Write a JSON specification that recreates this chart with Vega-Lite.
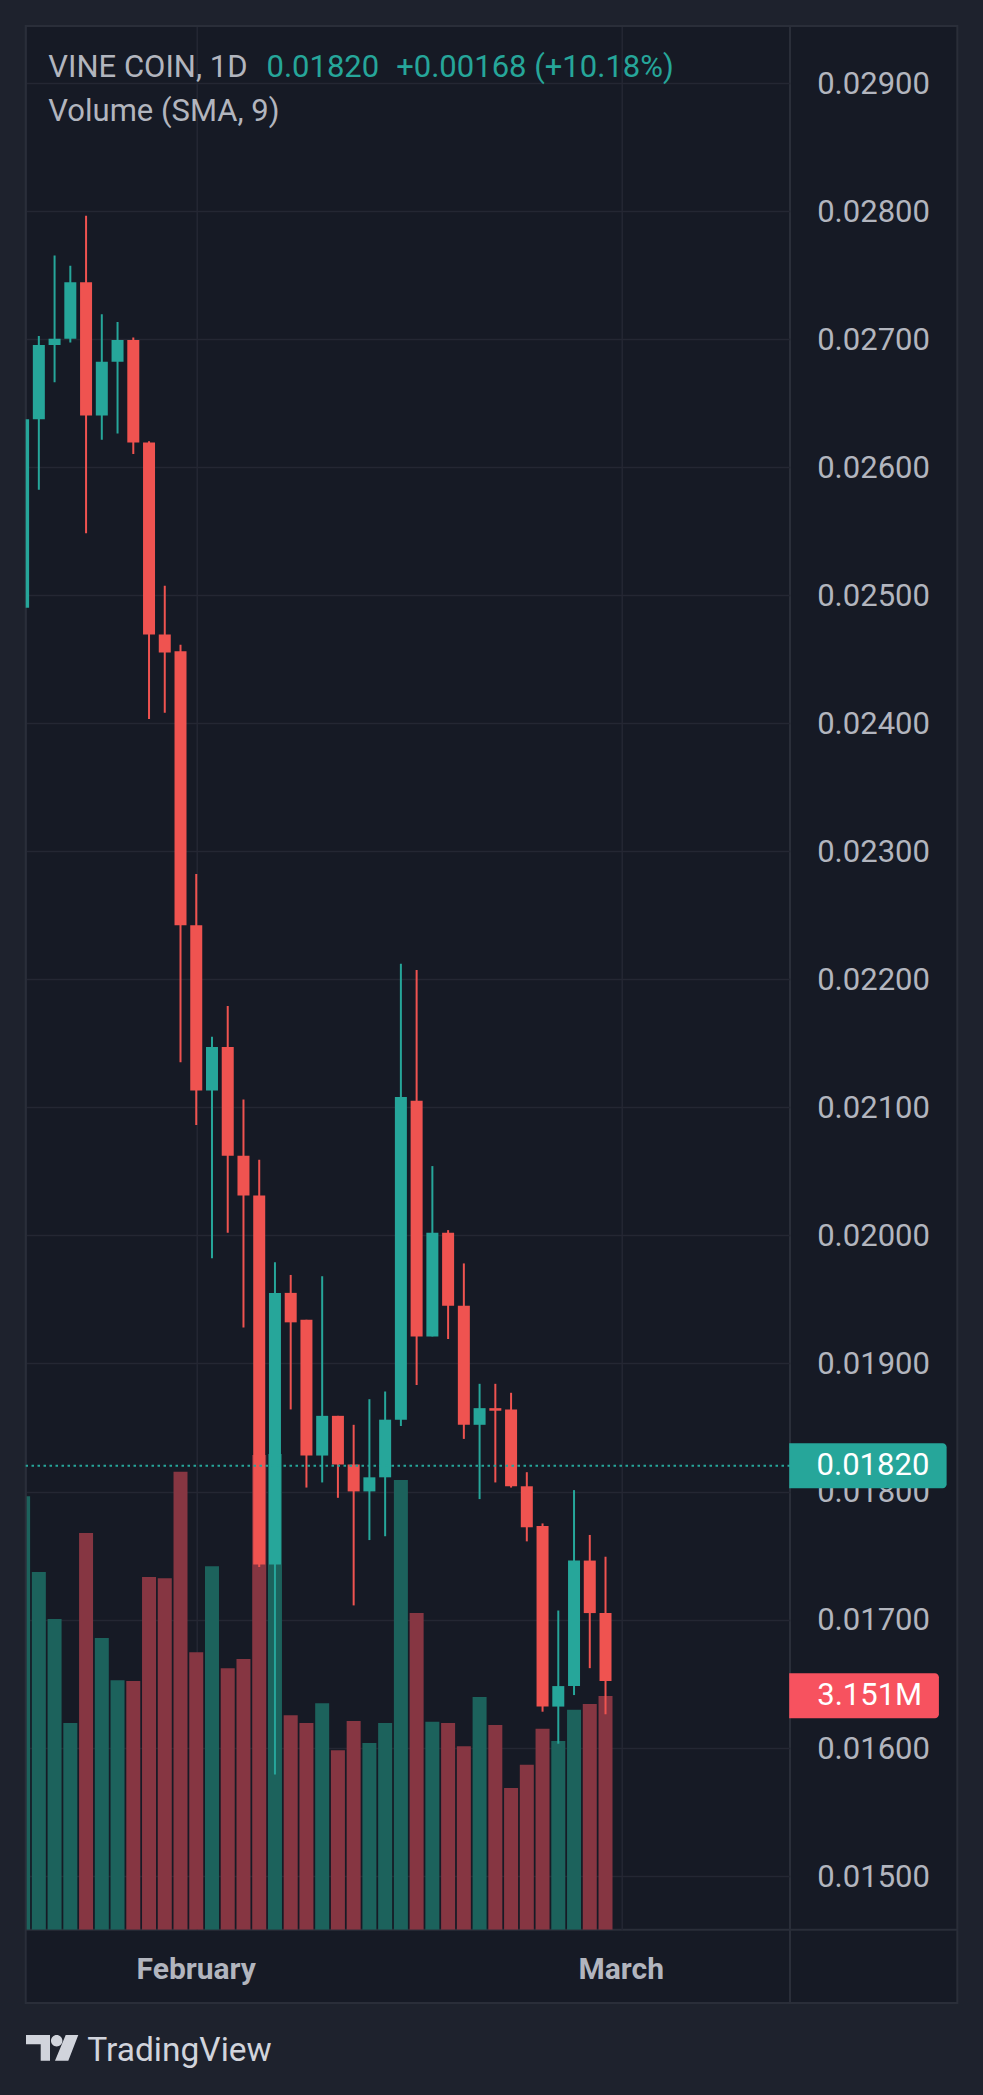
{
  "$schema": "https://vega.github.io/schema/vega-lite/v6.json",
  "width": 764.3,
  "height": 1903.8,
  "autosize": {"type": "none"},
  "padding": {"left": 25.7, "top": 25.9, "right": 193, "bottom": 165.3},
  "background": "#161a25",
  "config": {
    "view": {"stroke": "#2a2e39", "strokeWidth": 2, "fill": "#161a25"},
    "font": "Roboto",
    "scale": {"continuousPadding": 0},
    "axis": {"labelFont": "Roboto", "titleFont": "Roboto", "gridColor": "#242733", "gridWidth": 1.5, "domain": false, "ticks": false, "tickSize": 0, "title": null}
  },
  "datasets": {
    "candles": [
      {"day": 0, "open": 0.02490, "high": 0.02640, "low": 0.02485, "close": 0.02637, "volume": 5.845},
      {"day": 1, "open": 0.02637, "high": 0.02702, "low": 0.02582, "close": 0.02695, "volume": 4.823},
      {"day": 2, "open": 0.02695, "high": 0.02765, "low": 0.02666, "close": 0.02700, "volume": 4.190},
      {"day": 3, "open": 0.02700, "high": 0.02757, "low": 0.02697, "close": 0.02744, "volume": 2.786},
      {"day": 4, "open": 0.02744, "high": 0.02796, "low": 0.02548, "close": 0.02640, "volume": 5.349},
      {"day": 5, "open": 0.02640, "high": 0.02719, "low": 0.02621, "close": 0.02682, "volume": 3.933},
      {"day": 6, "open": 0.02682, "high": 0.02713, "low": 0.02626, "close": 0.02699, "volume": 3.365},
      {"day": 7, "open": 0.02699, "high": 0.02701, "low": 0.02610, "close": 0.02619, "volume": 3.353},
      {"day": 8, "open": 0.02619, "high": 0.02620, "low": 0.02403, "close": 0.02469, "volume": 4.757},
      {"day": 9, "open": 0.02469, "high": 0.02507, "low": 0.02408, "close": 0.02455, "volume": 4.740},
      {"day": 10, "open": 0.02456, "high": 0.02461, "low": 0.02135, "close": 0.02242, "volume": 6.174},
      {"day": 11, "open": 0.02242, "high": 0.02282, "low": 0.02086, "close": 0.02113, "volume": 3.742},
      {"day": 12, "open": 0.02113, "high": 0.02155, "low": 0.01982, "close": 0.02147, "volume": 4.901},
      {"day": 13, "open": 0.02147, "high": 0.02179, "low": 0.02002, "close": 0.02062, "volume": 3.526},
      {"day": 14, "open": 0.02062, "high": 0.02106, "low": 0.01928, "close": 0.02031, "volume": 3.651},
      {"day": 15, "open": 0.02031, "high": 0.02059, "low": 0.01741, "close": 0.01743, "volume": 6.401},
      {"day": 16, "open": 0.01743, "high": 0.01979, "low": 0.01579, "close": 0.01955, "volume": 6.414},
      {"day": 17, "open": 0.01955, "high": 0.01969, "low": 0.01864, "close": 0.01932, "volume": 2.892},
      {"day": 18, "open": 0.01934, "high": 0.01934, "low": 0.01803, "close": 0.01828, "volume": 2.786},
      {"day": 19, "open": 0.01828, "high": 0.01968, "low": 0.01807, "close": 0.01859, "volume": 3.054},
      {"day": 20, "open": 0.01859, "high": 0.01859, "low": 0.01795, "close": 0.01821, "volume": 2.420},
      {"day": 21, "open": 0.01821, "high": 0.01852, "low": 0.01711, "close": 0.01800, "volume": 2.815},
      {"day": 22, "open": 0.01800, "high": 0.01872, "low": 0.01762, "close": 0.01811, "volume": 2.516},
      {"day": 23, "open": 0.01811, "high": 0.01878, "low": 0.01765, "close": 0.01856, "volume": 2.786},
      {"day": 24, "open": 0.01856, "high": 0.02212, "low": 0.01851, "close": 0.02108, "volume": 6.064},
      {"day": 25, "open": 0.02105, "high": 0.02207, "low": 0.01883, "close": 0.01921, "volume": 4.270},
      {"day": 26, "open": 0.01921, "high": 0.02054, "low": 0.01921, "close": 0.02002, "volume": 2.803},
      {"day": 27, "open": 0.02002, "high": 0.02004, "low": 0.01919, "close": 0.01945, "volume": 2.786},
      {"day": 28, "open": 0.01945, "high": 0.01978, "low": 0.01841, "close": 0.01852, "volume": 2.474},
      {"day": 29, "open": 0.01852, "high": 0.01884, "low": 0.01794, "close": 0.01865, "volume": 3.138},
      {"day": 30, "open": 0.01865, "high": 0.01884, "low": 0.01807, "close": 0.01863, "volume": 2.761},
      {"day": 31, "open": 0.01864, "high": 0.01877, "low": 0.01803, "close": 0.01804, "volume": 1.912},
      {"day": 32, "open": 0.01804, "high": 0.01815, "low": 0.01761, "close": 0.01772, "volume": 2.224},
      {"day": 33, "open": 0.01773, "high": 0.01775, "low": 0.01628, "close": 0.01632, "volume": 2.708},
      {"day": 34, "open": 0.01632, "high": 0.01707, "low": 0.01603, "close": 0.01648, "volume": 2.546},
      {"day": 35, "open": 0.01648, "high": 0.01801, "low": 0.01641, "close": 0.01746, "volume": 2.965},
      {"day": 36, "open": 0.01746, "high": 0.01766, "low": 0.01662, "close": 0.01705, "volume": 3.042},
      {"day": 37, "open": 0.01705, "high": 0.01749, "low": 0.01626, "close": 0.01652, "volume": 3.151}
    ],
    "last": [{"price": 0.0182, "label": "0.01820"}],
    "lastVolume": [{"volume": 3.151, "label": "3.151M"}],
    "months": [{"day": 11, "month": "February"}, {"day": 38, "month": "March"}]
  },
  "layer": [
    {
      "layer": [
        {
          "data": {"name": "candles"},
          "mark": {"type": "bar", "width": 14, "clip": true},
          "encoding": {
            "x": {
              "field": "day", "type": "quantitative",
              "scale": {"domain": [0.165, 48.72], "nice": false, "zero": false, "padding": 0},
              "axis": {"values": [11, 38], "labels": false, "grid": true, "orient": "bottom"}
            },
            "y": {"field": "volume", "type": "quantitative", "scale": {"domain": [0, 25.67], "nice": false, "padding": 0}, "axis": null},
            "color": {"condition": {"test": "datum.close >= datum.open", "value": "#1c625c"}, "value": "#863642"}
          }
        },
        {
          "data": {"name": "lastVolume"},
          "mark": {"type": "rect", "color": "#f7525f", "cornerRadiusTopRight": 4, "cornerRadiusBottomRight": 4},
          "encoding": {
            "x": {"datum": 48.67, "type": "quantitative"},
            "x2": {"datum": 58.18},
            "y": {"datum": 3.457, "type": "quantitative", "axis": null},
            "y2": {"datum": 2.851}
          }
        },
        {
          "data": {"name": "lastVolume"},
          "mark": {"type": "text", "align": "left", "baseline": "middle", "color": "#ffffff", "fontSize": 31, "font": "Roboto"},
          "encoding": {
            "x": {"datum": 50.45, "type": "quantitative"},
            "y": {"field": "volume", "type": "quantitative", "axis": null},
            "text": {"field": "label"}
          }
        }
      ]
    },
    {
      "layer": [
        {
          "data": {"name": "candles"},
          "mark": {"type": "rule", "strokeWidth": 2, "clip": true},
          "encoding": {
            "x": {
              "field": "day", "type": "quantitative",
              "scale": {"domain": [0.165, 48.72], "nice": false, "zero": false, "padding": 0},
              "axis": {"values": [11, 38], "labels": false, "grid": true, "orient": "bottom"}
            },
            "y": {
              "field": "low", "type": "quantitative",
              "scale": {"domain": [0.014578, 0.029442], "nice": false, "zero": false, "padding": 0},
              "axis": {
                "orient": "right", "values": [0.015, 0.016, 0.017, 0.018, 0.019, 0.020, 0.021, 0.022, 0.023, 0.024, 0.025, 0.026, 0.027, 0.028, 0.029],
                "format": ".5f", "labelColor": "#b2b5be", "labelFontSize": 31, "labelFont": "Roboto", "labelPadding": 26.7, "labelAlign": "left", "labelBaseline": "middle",
                "grid": true, "labelOverlap": false, "labelOffset": 1.5
              }
            },
            "y2": {"field": "high"},
            "color": {"condition": {"test": "datum.close >= datum.open", "value": "#26a69a"}, "value": "#ef5350"}
          }
        },
        {
          "data": {"values": [{}]},
          "mark": {"type": "rect", "color": "#1e222d"},
          "encoding": {
            "x": {"datum": -5, "type": "quantitative"}, "x2": {"datum": 0.165},
            "y": {"datum": 0.0325, "type": "quantitative"}, "y2": {"datum": 0.0125}
          }
        },
        {
          "data": {"values": [{}]},
          "mark": {"type": "rect", "color": "#1e222d"},
          "encoding": {
            "x": {"datum": 59.35, "type": "quantitative"}, "x2": {"datum": 70},
            "y": {"datum": 0.0325, "type": "quantitative"}, "y2": {"datum": 0.0125}
          }
        },
        {
          "data": {"values": [{}]},
          "mark": {"type": "rect", "color": "#1e222d"},
          "encoding": {
            "x": {"datum": -5, "type": "quantitative"}, "x2": {"datum": 70},
            "y": {"datum": 0.0325, "type": "quantitative"}, "y2": {"datum": 0.029442}
          }
        },
        {
          "data": {"values": [{}]},
          "mark": {"type": "rect", "color": "#1e222d"},
          "encoding": {
            "x": {"datum": -5, "type": "quantitative"}, "x2": {"datum": 70},
            "y": {"datum": 0.014006, "type": "quantitative"}, "y2": {"datum": 0.0125}
          }
        },
        {
          "data": {"values": [{}]},
          "mark": {"type": "rect", "fillOpacity": 0, "stroke": "#2a2e39", "strokeWidth": 2},
          "encoding": {
            "x": {"datum": 0.165, "type": "quantitative"}, "x2": {"datum": 59.35},
            "y": {"datum": 0.029442, "type": "quantitative"}, "y2": {"datum": 0.014006}
          }
        },
        {
          "data": {"values": [{}]},
          "mark": {"type": "rule", "color": "#2a2e39", "strokeWidth": 2},
          "encoding": {
            "x": {"datum": 48.72, "type": "quantitative"},
            "y": {"datum": 0.014578, "type": "quantitative"}, "y2": {"datum": 0.014006}
          }
        },
        {
          "data": {"values": [{}]},
          "mark": {"type": "rule", "color": "#2a2e39", "strokeWidth": 2},
          "encoding": {
            "x": {"datum": 48.72, "type": "quantitative"}, "x2": {"datum": 59.35},
            "y": {"datum": 0.014578, "type": "quantitative"}
          }
        },
        {
          "data": {"name": "candles"},
          "mark": {"type": "bar", "width": 12, "clip": true},
          "encoding": {
            "x": {"field": "day", "type": "quantitative"},
            "y": {"field": "open", "type": "quantitative"},
            "y2": {"field": "close"},
            "color": {"condition": {"test": "datum.close >= datum.open", "value": "#26a69a"}, "value": "#ef5350"}
          }
        },
        {
          "data": {"name": "last"},
          "mark": {"type": "rule", "color": "#26a69a", "strokeWidth": 2, "strokeDash": [2.5, 3.5]},
          "encoding": {
            "y": {"field": "price", "type": "quantitative"}
          }
        },
        {
          "data": {"name": "last"},
          "mark": {"type": "rect", "color": "#26a69a", "cornerRadiusTopRight": 4, "cornerRadiusBottomRight": 4},
          "encoding": {
            "x": {"datum": 48.67, "type": "quantitative"}, "x2": {"datum": 58.67},
            "y": {"datum": 0.0183757, "type": "quantitative"}, "y2": {"datum": 0.0180243}
          }
        },
        {
          "data": {"name": "last"},
          "mark": {"type": "text", "align": "left", "baseline": "middle", "color": "#ffffff", "fontSize": 31, "font": "Roboto"},
          "encoding": {
            "x": {"datum": 50.41, "type": "quantitative"},
            "y": {"field": "price", "type": "quantitative"},
            "text": {"field": "label"}
          }
        },
        {
          "data": {"values": [{}]},
          "mark": {"type": "text", "text": "VINE COIN, 1D", "align": "left", "baseline": "alphabetic", "color": "#b2b5be", "fontSize": 31, "font": "Roboto"},
          "encoding": {
            "x": {"datum": 1.601, "type": "quantitative"},
            "y": {"datum": 0.029044, "type": "quantitative"}
          }
        },
        {
          "data": {"values": [{}]},
          "mark": {"type": "text", "text": "0.01820", "align": "left", "baseline": "alphabetic", "color": "#26a69a", "fontSize": 31, "font": "Roboto"},
          "encoding": {
            "x": {"datum": 15.462, "type": "quantitative"},
            "y": {"datum": 0.029044, "type": "quantitative"}
          }
        },
        {
          "data": {"values": [{}]},
          "mark": {"type": "text", "text": "+0.00168 (+10.18%)", "align": "left", "baseline": "alphabetic", "color": "#26a69a", "fontSize": 31, "font": "Roboto"},
          "encoding": {
            "x": {"datum": 23.701, "type": "quantitative"},
            "y": {"datum": 0.029044, "type": "quantitative"}
          }
        },
        {
          "data": {"values": [{}]},
          "mark": {"type": "text", "text": "Volume (SMA, 9)", "align": "left", "baseline": "alphabetic", "color": "#b2b5be", "fontSize": 31, "font": "Roboto"},
          "encoding": {
            "x": {"datum": 1.601, "type": "quantitative"},
            "y": {"datum": 0.028696, "type": "quantitative"}
          }
        },
        {
          "data": {"name": "months"},
          "mark": {"type": "text", "align": "center", "baseline": "alphabetic", "color": "#b2b5be", "fontSize": 30, "fontWeight": "bold", "font": "Roboto"},
          "encoding": {
            "x": {"field": "day", "type": "quantitative"},
            "y": {"datum": 0.014190, "type": "quantitative"},
            "text": {"field": "month"}
          }
        },
        {
          "data": {"values": [{}]},
          "mark": {"type": "text", "text": "TradingView", "align": "left", "baseline": "alphabetic", "color": "#d1d4dc", "fontSize": 33.5, "font": "Roboto"},
          "encoding": {
            "x": {"datum": 4.078, "type": "quantitative"},
            "y": {"datum": 0.013552, "type": "quantitative"}
          }
        },
        {
          "data": {"values": [{}]},
          "mark": {
            "type": "point", "filled": true, "color": "#d1d4dc", "opacity": 1, "size": 2735,
            "shape": "M -1 -0.491 L -0.082 -0.491 L -0.082 0.491 L -0.438 0.491 L -0.438 -0.136 L -1 -0.136 Z M -0.044 -0.273 A 0.218 0.218 0 1 0 0.392 -0.273 A 0.218 0.218 0 1 0 -0.044 -0.273 Z M 0.518 -0.491 L 1 -0.491 L 0.618 0.491 L 0.109 0.491 Z"
          },
          "encoding": {
            "x": {"datum": 1.845, "type": "quantitative"},
            "y": {"datum": 0.013655, "type": "quantitative"}
          }
        }
      ]
    }
  ],
  "resolve": {"scale": {"y": "independent"}}
}
